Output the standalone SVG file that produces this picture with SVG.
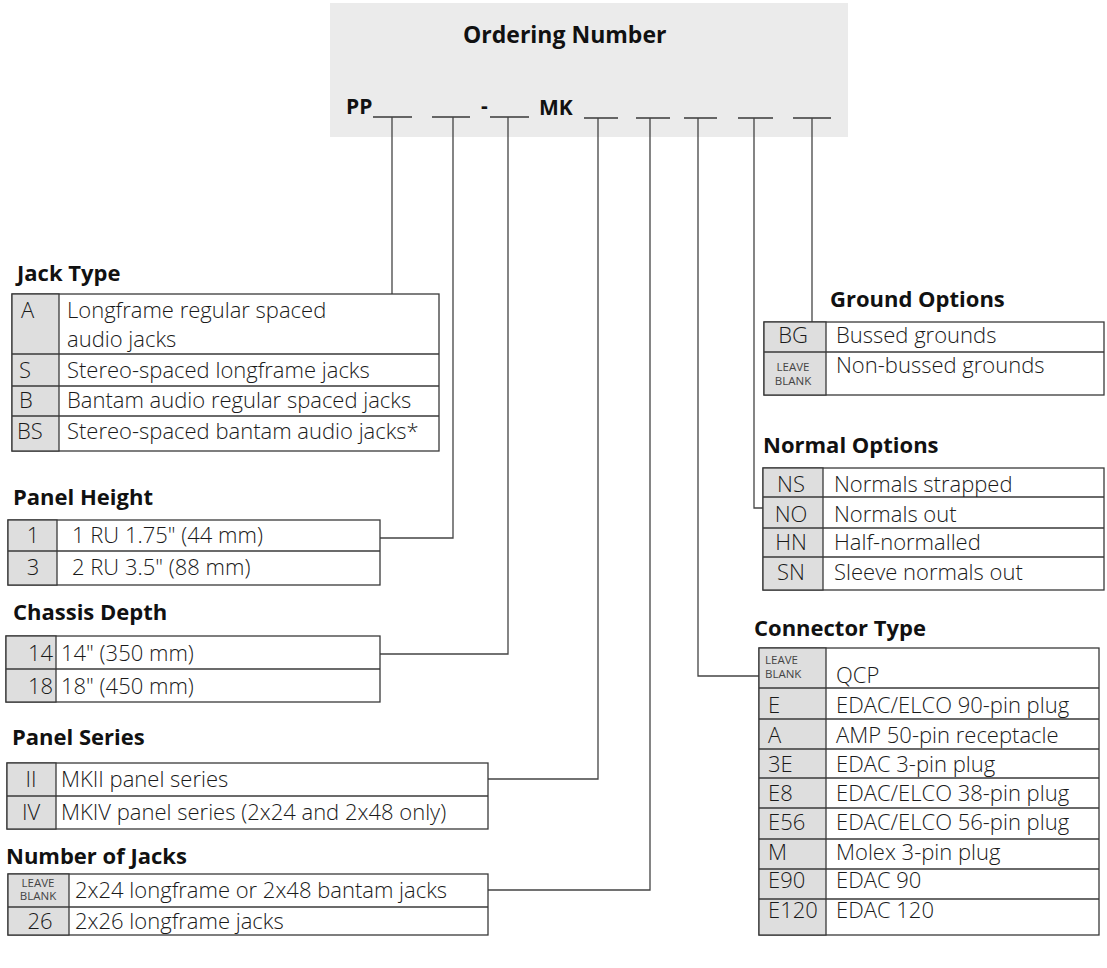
<svg xmlns="http://www.w3.org/2000/svg" width="1107" height="968" viewBox="0 0 1107 968">
<style>
.t{font-family:"Open Sans","Noto Sans","DejaVu Sans",sans-serif;font-size:22px;font-weight:300;fill:#1a1a1a}
.h{font-weight:bold;fill:#111}
.s{font-size:11.5px;font-weight:400;fill:#444}
.m{text-anchor:middle}
.e{text-anchor:end}
.box{fill:#fff;stroke:#3a3a3a;stroke-width:1.3}
.code{fill:#dedede;stroke:#3a3a3a;stroke-width:1.3}
.ln{stroke:#3a3a3a;stroke-width:1.3;fill:none}
.conn{stroke:#444;stroke-width:1.3;fill:none}
</style>
<rect width="1107" height="968" fill="#fff"/>

<g id="ordering-number">
<rect x="330" y="3" width="518" height="134" fill="#ebebeb"/>
<text class="t h" x="463" y="43" style="font-size:23px">Ordering Number</text>
<text class="t h" x="346" y="114" style="font-size:21px">PP</text>
<text class="t h" x="481" y="113" style="font-size:21px">-</text>
<text class="t h" x="539" y="115" style="font-size:21px">MK</text>
<path class="ln" d="M373 117H412M432 117H470M490 117H529M584 118H618M636 118H670M684 118H717M738 118H773M793 118H831"/>
</g>

<g id="connectors">
<path class="conn" d="M392 117V294"/>
<path class="conn" d="M453 117V538H380"/>
<path class="conn" d="M508 117V654H380"/>
<path class="conn" d="M598 118V779H488"/>
<path class="conn" d="M650 118V890H488"/>
<path class="conn" d="M698 118V676H759"/>
<path class="conn" d="M754 118V508H763"/>
<path class="conn" d="M812 118V322"/>
</g>

<g id="jack-type">
<text class="t h" x="17" y="281">Jack Type</text>
<rect class="box" x="12" y="294" width="427" height="157"/>
<rect class="code" x="12" y="294" width="47" height="157"/>
<path class="ln" d="M12 354H439M12 386H439M12 416H439"/>
<text class="t" x="21" y="318">A</text>
<text class="t" x="19" y="378">S</text>
<text class="t" x="19" y="408">B</text>
<text class="t" x="17" y="439">BS</text>
<text class="t" x="67" y="318">Longframe regular spaced</text>
<text class="t" x="67" y="347">audio jacks</text>
<text class="t" x="67" y="378">Stereo-spaced longframe jacks</text>
<text class="t" x="67" y="408">Bantam audio regular spaced jacks</text>
<text class="t" x="67" y="439">Stereo-spaced bantam audio jacks*</text>
</g>

<g id="panel-height">
<text class="t h" x="13" y="505">Panel Height</text>
<rect class="box" x="8" y="520" width="372" height="65"/>
<rect class="code" x="8" y="520" width="49" height="65"/>
<path class="ln" d="M8 551H380"/>
<text class="t m" x="33" y="543">1</text>
<text class="t m" x="33" y="575">3</text>
<text class="t" x="72" y="543">1 RU 1.75" (44 mm)</text>
<text class="t" x="72" y="575">2 RU 3.5" (88 mm)</text>
</g>

<g id="chassis-depth">
<text class="t h" x="13" y="620">Chassis Depth</text>
<rect class="box" x="6" y="636" width="374" height="66"/>
<rect class="code" x="6" y="636" width="50" height="66"/>
<path class="ln" d="M6 669H380"/>
<text class="t e" x="53" y="661">14</text>
<text class="t e" x="53" y="694">18</text>
<text class="t" x="61" y="661">14" (350 mm)</text>
<text class="t" x="61" y="694">18" (450 mm)</text>
</g>

<g id="panel-series">
<text class="t h" x="12" y="745">Panel Series</text>
<rect class="box" x="7" y="763" width="481" height="66"/>
<rect class="code" x="7" y="763" width="49" height="66"/>
<path class="ln" d="M7 796H488"/>
<text class="t m" x="31" y="787">II</text>
<text class="t m" x="31" y="820">IV</text>
<text class="t" x="61" y="787">MKII panel series</text>
<text class="t" x="61" y="820">MKIV panel series (2x24 and 2x48 only)</text>
</g>

<g id="number-of-jacks">
<text class="t h" x="6" y="864">Number of Jacks</text>
<rect class="box" x="8" y="874" width="480" height="61"/>
<rect class="code" x="8" y="874" width="61" height="61"/>
<path class="ln" d="M8 907H488"/>
<text class="t s m" x="38" y="887">LEAVE</text>
<text class="t s m" x="38" y="900">BLANK</text>
<text class="t m" x="40" y="929">26</text>
<text class="t" x="75" y="898">2x24 longframe or 2x48 bantam jacks</text>
<text class="t" x="75" y="929">2x26 longframe jacks</text>
</g>

<g id="ground-options">
<text class="t h" x="830" y="307">Ground Options</text>
<rect class="box" x="764" y="322" width="340" height="73"/>
<rect class="code" x="764" y="322" width="62" height="73"/>
<path class="ln" d="M764 352H1104"/>
<text class="t m" x="793" y="343">BG</text>
<text class="t" x="836" y="343">Bussed grounds</text>
<text class="t s m" x="793" y="371">LEAVE</text>
<text class="t s m" x="793" y="385">BLANK</text>
<text class="t" x="836" y="373">Non-bussed grounds</text>
</g>

<g id="normal-options">
<text class="t h" x="763" y="453">Normal Options</text>
<rect class="box" x="763" y="468" width="341" height="122"/>
<rect class="code" x="763" y="468" width="60" height="122"/>
<path class="ln" d="M763 497H1104M763 528H1104M763 557H1104"/>
<text class="t m" x="791" y="492">NS</text>
<text class="t m" x="791" y="522">NO</text>
<text class="t m" x="791" y="550">HN</text>
<text class="t m" x="791" y="580">SN</text>
<text class="t" x="834" y="492">Normals strapped</text>
<text class="t" x="834" y="522">Normals out</text>
<text class="t" x="834" y="550">Half-normalled</text>
<text class="t" x="834" y="580">Sleeve normals out</text>
</g>

<g id="connector-type">
<text class="t h" x="754" y="636">Connector Type</text>
<rect class="box" x="759" y="648" width="340" height="287"/>
<rect class="code" x="759" y="648" width="67" height="287"/>
<path class="ln" d="M759 688H1099M759 719H1099M759 749H1099M759 778H1099M759 808H1099M759 839H1099M759 869H1099M759 899H1099"/>
<text class="t s" x="765" y="664">LEAVE</text>
<text class="t s" x="765" y="678">BLANK</text>
<text class="t" x="768" y="713">E</text>
<text class="t" x="768" y="743">A</text>
<text class="t" x="768" y="772">3E</text>
<text class="t" x="768" y="801">E8</text>
<text class="t" x="768" y="830">E56</text>
<text class="t" x="768" y="860">M</text>
<text class="t" x="768" y="888">E90</text>
<text class="t" x="768" y="918">E120</text>
<text class="t" x="836" y="683">QCP</text>
<text class="t" x="836" y="713">EDAC/ELCO 90-pin plug</text>
<text class="t" x="836" y="743">AMP 50-pin receptacle</text>
<text class="t" x="836" y="772">EDAC 3-pin plug</text>
<text class="t" x="836" y="801">EDAC/ELCO 38-pin plug</text>
<text class="t" x="836" y="830">EDAC/ELCO 56-pin plug</text>
<text class="t" x="836" y="860">Molex 3-pin plug</text>
<text class="t" x="836" y="888">EDAC 90</text>
<text class="t" x="836" y="918">EDAC 120</text>
</g>
</svg>
